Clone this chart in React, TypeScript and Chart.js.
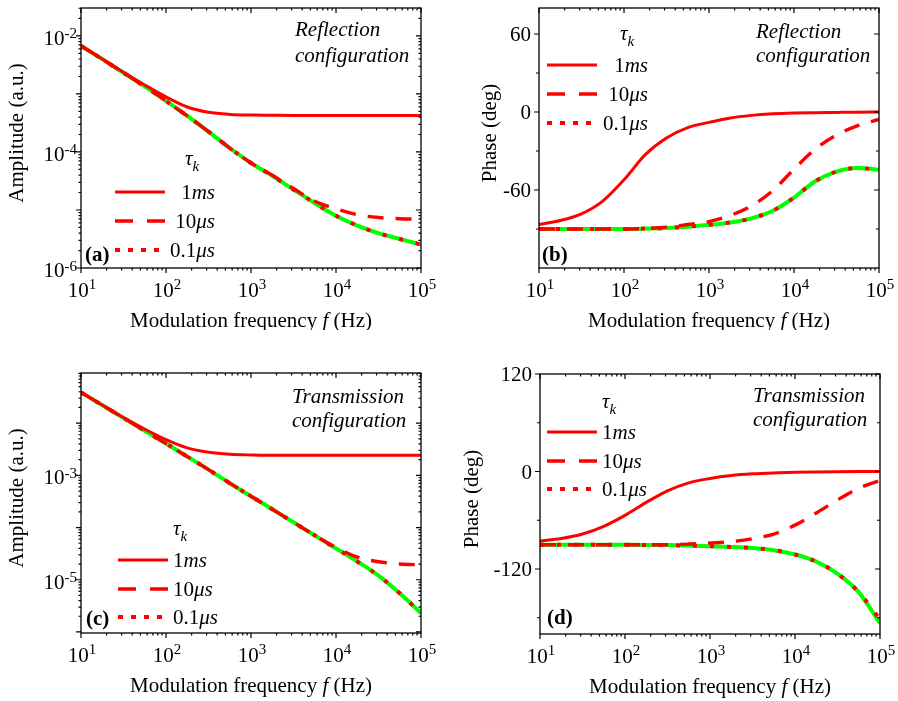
import React, { useEffect, useRef } from "react";
import { Chart, registerables } from "chart.js";

Chart.register(...registerables);

// ---------- data ----------
const freqHz = [10, 17.8, 31.6, 56.2, 100, 178, 316, 562, 1000, 1780, 3160, 5620, 10000, 17800, 31600, 56200, 100000];

// (a) amplitude, reflection configuration
const ampRefl1ms = [6.74e-3, 4.0e-3, 2.37e-3, 1.43e-3, 8.9e-4, 5.95e-4, 4.83e-4, 4.44e-4, 4.32e-4, 4.29e-4, 4.27e-4, 4.27e-4, 4.27e-4, 4.27e-4, 4.27e-4, 4.27e-4, 4.27e-4];
const ampRefl10us = [6.73e-3, 3.98e-3, 2.32e-3, 1.35e-3, 7.59e-4, 4.17e-4, 2.24e-4, 1.17e-4, 6.46e-5, 3.98e-5, 2.34e-5, 1.41e-5, 1.05e-5, 8.32e-6, 7.41e-6, 7.08e-6, 6.92e-6];
const ampRefl01us = [6.73e-3, 3.98e-3, 2.32e-3, 1.35e-3, 7.59e-4, 4.17e-4, 2.24e-4, 1.17e-4, 6.46e-5, 3.89e-5, 2.24e-5, 1.32e-5, 7.94e-6, 5.37e-6, 3.98e-6, 3.16e-6, 2.54e-6];
const ampReflModel = [6.73e-3, 3.98e-3, 2.32e-3, 1.35e-3, 7.59e-4, 4.17e-4, 2.24e-4, 1.17e-4, 6.46e-5, 3.89e-5, 2.24e-5, 1.32e-5, 7.94e-6, 5.37e-6, 3.98e-6, 3.16e-6, 2.54e-6];

// (b) phase, reflection configuration
const phaseRefl1ms = [-86.6, -83.5, -78.3, -68.5, -52.2, -32.8, -20.0, -12.0, -8.0, -4.6, -2.6, -1.4, -0.8, -0.5, -0.3, -0.1, 0];
const phaseRefl10us = [-90, -90, -90, -90, -90, -89.6, -88.6, -86.5, -84.3, -79.6, -72.2, -60.5, -44.0, -28.5, -17.8, -10.5, -5.7];
const phaseRefl01us = [-90, -90, -90, -90, -90, -89.7, -89.2, -88.2, -86.8, -85.0, -81.8, -76.0, -65.8, -53.3, -45.8, -43.1, -44.4];
const phaseReflModel = [-90, -90, -90, -90, -90, -89.7, -89.2, -88.2, -86.8, -85.0, -81.8, -76.0, -65.8, -53.3, -45.8, -43.1, -44.4];

// (c) amplitude, transmission configuration
const ampTrans1ms = [3.90e-2, 2.22e-2, 1.28e-2, 7.7e-3, 4.85e-3, 3.37e-3, 2.78e-3, 2.54e-3, 2.46e-3, 2.43e-3, 2.43e-3, 2.43e-3, 2.43e-3, 2.43e-3, 2.43e-3, 2.43e-3, 2.43e-3];
const ampTrans10us = [3.89e-2, 2.21e-2, 1.26e-2, 7.16e-3, 4.07e-3, 2.29e-3, 1.29e-3, 7.08e-4, 3.98e-4, 2.24e-4, 1.26e-4, 7.08e-5, 4.17e-5, 2.72e-5, 2.21e-5, 2.00e-5, 1.93e-5];
const ampTrans01us = [3.89e-2, 2.21e-2, 1.26e-2, 7.16e-3, 4.07e-3, 2.29e-3, 1.29e-3, 7.08e-4, 3.98e-4, 2.24e-4, 1.26e-4, 7.08e-5, 3.98e-5, 2.24e-5, 1.20e-5, 5.50e-6, 2.29e-6];
const ampTransModel = [3.89e-2, 2.21e-2, 1.26e-2, 7.16e-3, 4.07e-3, 2.29e-3, 1.29e-3, 7.08e-4, 3.98e-4, 2.24e-4, 1.26e-4, 7.08e-5, 3.98e-5, 2.24e-5, 1.20e-5, 5.50e-6, 2.29e-6];

// (d) phase, transmission configuration
const phaseTrans1ms = [-85.5, -82.5, -77.0, -67.5, -54.0, -38.0, -23.8, -14.0, -8.6, -5.0, -2.9, -1.7, -1.0, -0.6, -0.3, -0.1, 0];
const phaseTrans10us = [-90.2, -90.2, -90.2, -90.2, -90.2, -90.2, -90.1, -89.3, -88.0, -86.3, -82.7, -77.0, -66.0, -51.0, -35.0, -20.5, -11.0];
const phaseTrans01us = [-90.3, -90.3, -90.3, -90.3, -90.3, -90.4, -90.6, -91.2, -91.9, -92.9, -94.3, -96.8, -102.2, -110.9, -125.8, -148.5, -182];
const phaseTransModel = [-90.3, -90.3, -90.3, -90.3, -90.3, -90.4, -90.6, -91.2, -91.9, -92.9, -94.3, -96.8, -102.2, -110.9, -125.8, -148.5, -187];

// tick values / labels
const freqTicks = [10, 100, 1000, 10000, 100000];
const freqTickExp = ["1", "2", "3", "4", "5"];
const ampReflMajor = [1e-6, 1e-5, 1e-4, 1e-3, 1e-2];
const ampReflLabelTicks = [1e-6, 1e-4, 1e-2];
const ampReflLabelExp = ["-6", "-4", "-2"];
const ampTransMajor = [1e-6, 1e-5, 1e-4, 1e-3, 1e-2];
const ampTransLabelTicks = [1e-5, 1e-3];
const ampTransLabelExp = ["-5", "-3"];
const phaseReflTicks = [-60, 0, 60];
const phaseReflTickLabels = ["-60", "0", "60"];
const phaseReflMinor = [-90, -30, 30];
const phaseTransTicks = [-120, 0, 120];
const phaseTransTickLabels = ["-120", "0", "120"];
const phaseTransMinor = [-180, -60, 60];

const legendLabels = [
  [{ t: "1" }, { t: "ms", i: true }],
  [{ t: "10" }, { t: "μs", i: true }],
  [{ t: "0.1" }, { t: "μs", i: true }],
];

// ---------- styling ----------
const SERIF = '"Liberation Serif", "Times New Roman", Times, serif';
const RED = "#ff0000";
const GREEN = "#00ff00";
const SOLID: number[] = [];
const DASH = [16, 12];
const DOT = [4, 13];

type Part = { t: string; i?: boolean; b?: boolean; size?: number; dy?: number };

function fontOf(p: Part) {
  return `${p.i ? "italic " : ""}${p.b ? "bold " : ""}${p.size ?? 21}px ${SERIF}`;
}

function drawParts(ctx: CanvasRenderingContext2D, parts: Part[], x: number, y: number, align: "left" | "center" | "right") {
  let w = 0;
  for (const p of parts) {
    ctx.font = fontOf(p);
    w += ctx.measureText(p.t).width;
  }
  let cx = align === "left" ? x : align === "center" ? x - w / 2 : x - w;
  ctx.textAlign = "left";
  for (const p of parts) {
    ctx.font = fontOf(p);
    ctx.fillText(p.t, cx, y + (p.dy ?? 0));
    cx += ctx.measureText(p.t).width;
  }
}

type Spec = {
  left: number; top: number; width: number; height: number;
  padding: { left: number; top: number; right: number; bottom: number };
  yType: "logarithmic" | "linear";
  yMin: number; yMax: number;
  solid: number[]; dashed: number[]; dotted: number[]; model: number[];
  yMajor: number[]; yLabelTicks: number[]; yLabels: string[]; yMinor?: number[];
  yTitle: string; yTitleDx: number;
  yLabelGap: number;
  legend: { tauX: number; tauY: number; x1: number; x2: number; rows: number[]; textX: number; align: "left" | "right" };
  note: { x: number; lines: string[]; ys: number[] };
  tag: { t: string; x: number; dyBottom: number };
};

function drawDeco(chart: Chart, s: Spec) {
  const ctx = chart.ctx;
  const { left, right, top, bottom } = chart.chartArea;
  const xs: any = chart.scales.x;
  const ys: any = chart.scales.y;
  ctx.save();
  ctx.fillStyle = "#000";
  ctx.strokeStyle = "#000";
  ctx.lineWidth = 1.3;
  ctx.setLineDash([]);
  ctx.strokeRect(left, top, right - left, bottom - top);

  const hTick = (px: number, len: number) => {
    ctx.beginPath();
    ctx.moveTo(px, bottom); ctx.lineTo(px, bottom + len);
    ctx.moveTo(px, top); ctx.lineTo(px, top + len);
    ctx.stroke();
  };
  const vTick = (py: number, len: number) => {
    ctx.beginPath();
    ctx.moveTo(left, py); ctx.lineTo(left - len, py);
    ctx.moveTo(right, py); ctx.lineTo(right - len, py);
    ctx.stroke();
  };
  ctx.lineWidth = 1.2;
  // x ticks (log)
  for (let e = 1; e <= 5; e++) {
    hTick(xs.getPixelForValue(Math.pow(10, e)), 5);
    if (e < 5) for (let m = 2; m <= 9; m++) hTick(xs.getPixelForValue(m * Math.pow(10, e)), 2.5);
  }
  // y ticks
  for (const v of s.yMajor) vTick(ys.getPixelForValue(v), 5);
  if (s.yType === "logarithmic") {
    const e0 = Math.floor(Math.log10(s.yMin));
    const e1 = Math.ceil(Math.log10(s.yMax));
    for (let e = e0; e <= e1; e++)
      for (let m = 2; m <= 9; m++) {
        const v = m * Math.pow(10, e);
        if (v > s.yMin && v < s.yMax) vTick(ys.getPixelForValue(v), 2.5);
      }
  } else if (s.yMinor) {
    for (const v of s.yMinor) vTick(ys.getPixelForValue(v), 3);
  }

  // x tick labels
  ctx.textBaseline = "alphabetic";
  freqTicks.forEach((v, i) => {
    drawParts(ctx, [{ t: "10" }, { t: freqTickExp[i], size: 15, dy: -8.5 }], xs.getPixelForValue(v) + 1, bottom + 29, "center");
  });
  // y tick labels
  s.yLabelTicks.forEach((v, i) => {
    const py = ys.getPixelForValue(v);
    if (s.yType === "logarithmic") {
      drawParts(ctx, [{ t: "10" }, { t: s.yLabels[i], size: 15, dy: -6.5 }], left - s.yLabelGap, py + 9, "right");
    } else {
      drawParts(ctx, [{ t: s.yLabels[i] }], left - s.yLabelGap, py + 7, "right");
    }
  });

  // x title
  drawParts(ctx, [{ t: "Modulation frequency " }, { t: "f", i: true }, { t: " (Hz)" }], (left + right) / 2, bottom + 59, "center");
  // y title
  ctx.save();
  ctx.translate(left + s.yTitleDx, (top + bottom) / 2 - 5);
  ctx.rotate(-Math.PI / 2);
  ctx.textBaseline = "middle";
  drawParts(ctx, [{ t: s.yTitle }], 0, 0, "center");
  ctx.restore();

  // legend
  const L = s.legend;
  ctx.textBaseline = "alphabetic";
  drawParts(ctx, [{ t: "τ", i: true }, { t: "k", i: true, size: 15, dy: 6 }], left + L.tauX, top + L.tauY, "left");
  const styles = [
    { dash: SOLID, w: 3 },
    { dash: [18, 14], w: 3.4 },
    { dash: [5, 8], w: 3.8 },
  ];
  L.rows.forEach((ry, i) => {
    ctx.save();
    ctx.strokeStyle = RED;
    ctx.lineWidth = styles[i].w;
    ctx.setLineDash(styles[i].dash);
    ctx.beginPath();
    ctx.moveTo(left + L.x1, top + ry);
    ctx.lineTo(left + L.x2, top + ry);
    ctx.stroke();
    ctx.restore();
    drawParts(ctx, legendLabels[i] as Part[], left + L.textX, top + ry + 7, L.align);
  });

  // annotation
  s.note.lines.forEach((line, i) => {
    drawParts(ctx, [{ t: line, i: true }], left + s.note.x, top + s.note.ys[i], "left");
  });
  // panel tag
  drawParts(ctx, [{ t: s.tag.t, b: true }], left + s.tag.x, bottom + s.tag.dyBottom, "left");
  ctx.restore();
}

function buildDatasets(s: Spec) {
  const pts = (arr: number[]) => freqHz.map((f, i) => ({ x: f, y: arr[i] }));
  const common = { fill: false, pointRadius: 0, pointHoverRadius: 0, cubicInterpolationMode: "monotone" as const };
  return [
    { ...common, label: "1ms", data: pts(s.solid), borderColor: RED, borderWidth: 3 },
    { ...common, label: "10μs", data: pts(s.dashed), borderColor: RED, borderWidth: 3.4, borderDash: DASH },
    { ...common, label: "0.1μs", data: pts(s.dotted), borderColor: RED, borderWidth: 4, borderDash: DOT },
    { ...common, label: "model", data: pts(s.model), borderColor: GREEN, borderWidth: 4 },
  ];
}

const panels: Spec[] = [
  {
    left: 0, top: 0, width: 449, height: 330,
    padding: { left: 81, top: 8, right: 28, bottom: 62 },
    yType: "logarithmic", yMin: 1e-6, yMax: 0.0303,
    solid: ampRefl1ms, dashed: ampRefl10us, dotted: ampRefl01us, model: ampReflModel,
    yMajor: ampReflMajor, yLabelTicks: ampReflLabelTicks, yLabels: ampReflLabelExp,
    yTitle: "Amplitude (a.u.)", yTitleDx: -64, yLabelGap: 4,
    legend: { tauX: 104, tauY: 157, x1: 34, x2: 84, rows: [184, 213, 242], textX: 134, align: "right" },
    note: { x: 214, lines: ["Reflection", "configuration"], ys: [28, 54] },
    tag: { t: "(a)", x: 4, dyBottom: -7 },
  },
  {
    left: 449, top: 0, width: 449, height: 330,
    padding: { left: 90, top: 8, right: 19, bottom: 62 },
    yType: "linear", yMin: -120, yMax: 80,
    solid: phaseRefl1ms, dashed: phaseRefl10us, dotted: phaseRefl01us, model: phaseReflModel,
    yMajor: phaseReflTicks, yLabelTicks: phaseReflTicks, yLabels: phaseReflTickLabels, yMinor: phaseReflMinor,
    yTitle: "Phase (deg)", yTitleDx: -49, yLabelGap: 8,
    legend: { tauX: 81, tauY: 32, x1: 8, x2: 58, rows: [57, 86, 115], textX: 109, align: "right" },
    note: { x: 217, lines: ["Reflection", "configuration"], ys: [30, 54] },
    tag: { t: "(b)", x: 3, dyBottom: -7 },
  },
  {
    left: 0, top: 330, width: 449, height: 371,
    padding: { left: 81, top: 43, right: 28, bottom: 68 },
    yType: "logarithmic", yMin: 9.55e-7, yMax: 0.0914,
    solid: ampTrans1ms, dashed: ampTrans10us, dotted: ampTrans01us, model: ampTransModel,
    yMajor: ampTransMajor, yLabelTicks: ampTransLabelTicks, yLabels: ampTransLabelExp,
    yTitle: "Amplitude (a.u.)", yTitleDx: -64, yLabelGap: 4,
    legend: { tauX: 92, tauY: 162, x1: 37, x2: 87, rows: [187, 216, 244], textX: 92, align: "left" },
    note: { x: 211, lines: ["Transmission", "configuration"], ys: [30, 54] },
    tag: { t: "(c)", x: 5, dyBottom: -8 },
  },
  {
    left: 449, top: 330, width: 449, height: 371,
    padding: { left: 91, top: 44, right: 18, bottom: 67 },
    yType: "linear", yMin: -200, yMax: 120,
    solid: phaseTrans1ms, dashed: phaseTrans10us, dotted: phaseTrans01us, model: phaseTransModel,
    yMajor: phaseTransTicks, yLabelTicks: phaseTransTicks, yLabels: phaseTransTickLabels, yMinor: phaseTransMinor,
    yTitle: "Phase (deg)", yTitleDx: -68, yLabelGap: 8,
    legend: { tauX: 62, tauY: 34, x1: 7, x2: 57, rows: [58, 87, 115], textX: 62, align: "left" },
    note: { x: 213, lines: ["Transmission", "configuration"], ys: [28, 52] },
    tag: { t: "(d)", x: 7, dyBottom: -10 },
  },
];

function Panel({ spec }: { spec: Spec }) {
  const ref = useRef<HTMLCanvasElement>(null);
  useEffect(() => {
    const deco = { id: "panelDeco", afterDraw: (c: Chart) => drawDeco(c, spec) };
    const chart = new Chart(ref.current as HTMLCanvasElement, {
      type: "line",
      data: { datasets: buildDatasets(spec) as any },
      options: {
        animation: false,
        responsive: false,
        maintainAspectRatio: false,
        devicePixelRatio: 1,
        events: [],
        layout: { padding: spec.padding },
        plugins: { legend: { display: false }, tooltip: { enabled: false } },
        scales: {
          x: { type: "logarithmic", min: 10, max: 100000, display: false },
          y: { type: spec.yType, min: spec.yMin, max: spec.yMax, display: false },
        },
      },
      plugins: [deco],
    });
    return () => chart.destroy();
  }, []);
  return (
    <canvas
      ref={ref}
      width={spec.width}
      height={spec.height}
      style={{ position: "absolute", left: spec.left, top: spec.top, width: spec.width, height: spec.height }}
    />
  );
}

export default function App() {
  return (
    <div style={{ position: "absolute", left: 0, top: 0, width: 898, height: 701, background: "#fff" }}>
      {panels.map((p, i) => (
        <Panel key={i} spec={p} />
      ))}
    </div>
  );
}
